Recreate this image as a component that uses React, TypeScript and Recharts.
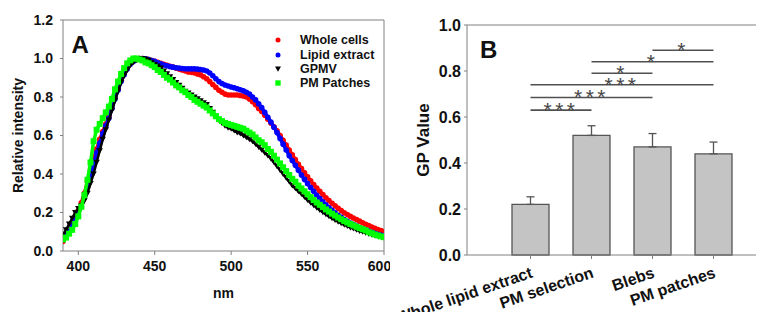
import React from "react";
import {
  Bar,
  BarChart,
  ErrorBar,
  Legend,
  ReferenceLine,
  Scatter,
  ScatterChart,
  XAxis,
  YAxis,
} from "recharts";

const FONT = '"Liberation Sans", Arial, sans-serif';
const AXIS = "#808080";
const INK = "#111111";

// ---- panel A: normalised emission spectra ----
const wavelengths = [
  390, 392, 394, 396, 398, 400, 402, 404, 406, 408,
  410, 412, 414, 416, 418, 420, 422, 424, 426, 428,
  430, 432, 434, 436, 438, 440, 442, 444, 446, 448,
  450, 452, 454, 456, 458, 460, 462, 464, 466, 468,
  470, 472, 474, 476, 478, 480, 482, 484, 486, 488,
  490, 492, 494, 496, 498, 500, 502, 504, 506, 508,
  510, 512, 514, 516, 518, 520, 522, 524, 526, 528,
  530, 532, 534, 536, 538, 540, 542, 544, 546, 548,
  550, 552, 554, 556, 558, 560, 562, 564, 566, 568,
  570, 572, 574, 576, 578, 580, 582, 584, 586, 588,
  590, 592, 594, 596, 598, 600,
];

const wholeCells = [
  0.05, 0.07, 0.1, 0.13, 0.17, 0.21, 0.25, 0.3, 0.36, 0.42,
  0.48, 0.53, 0.58, 0.62, 0.66, 0.7, 0.75, 0.8, 0.845, 0.89,
  0.925, 0.955, 0.975, 0.99, 0.998, 1.0, 1.0, 0.998, 0.995, 0.99,
  0.985, 0.98, 0.975, 0.97, 0.965, 0.96, 0.955, 0.95, 0.945, 0.94,
  0.935, 0.93, 0.928, 0.925, 0.92, 0.915, 0.905, 0.895, 0.88, 0.865,
  0.85, 0.835, 0.825, 0.815, 0.81, 0.81, 0.81, 0.81, 0.808, 0.805,
  0.8, 0.79, 0.775, 0.76, 0.74, 0.725, 0.705, 0.685, 0.665, 0.645,
  0.625, 0.6, 0.575, 0.55, 0.525, 0.5, 0.475, 0.45, 0.428, 0.406,
  0.385, 0.365, 0.345, 0.327, 0.31, 0.293, 0.277, 0.262, 0.248, 0.235,
  0.222, 0.21, 0.199, 0.189, 0.18, 0.171, 0.163, 0.155, 0.147, 0.139,
  0.132, 0.125, 0.118, 0.112, 0.106, 0.1,
];

const lipidExtract = [
  0.06, 0.08, 0.1, 0.13, 0.16, 0.19, 0.23, 0.28, 0.33, 0.39,
  0.45, 0.51, 0.56, 0.61, 0.65, 0.69, 0.74, 0.79, 0.835, 0.88,
  0.915, 0.945, 0.97, 0.985, 0.995, 1.0, 1.0, 0.998, 0.995, 0.99,
  0.985, 0.978, 0.972, 0.966, 0.962, 0.958, 0.955, 0.952, 0.95, 0.948,
  0.947, 0.946, 0.946, 0.946, 0.945, 0.943, 0.94, 0.935, 0.925, 0.91,
  0.895, 0.88, 0.87, 0.862, 0.857, 0.852, 0.848, 0.843, 0.838, 0.832,
  0.825, 0.815, 0.8, 0.785, 0.765, 0.745, 0.72, 0.695, 0.67, 0.643,
  0.615, 0.585, 0.555, 0.525, 0.495, 0.47, 0.445, 0.42, 0.395, 0.372,
  0.35, 0.33, 0.31, 0.29, 0.272, 0.255, 0.24, 0.225, 0.211, 0.198,
  0.186, 0.175, 0.164, 0.154, 0.145, 0.137, 0.129, 0.122, 0.115, 0.109,
  0.103, 0.097, 0.092, 0.087, 0.083, 0.079,
];

const gpmv = [
  0.085, 0.11, 0.14, 0.17, 0.2, 0.22, 0.235, 0.26, 0.3, 0.35,
  0.4, 0.46, 0.52, 0.58, 0.63, 0.68, 0.73, 0.78, 0.83, 0.875,
  0.91, 0.94, 0.965, 0.98, 0.99, 0.998, 1.0, 0.995, 0.99, 0.98,
  0.97, 0.96, 0.95, 0.935, 0.92, 0.905, 0.89, 0.875, 0.86, 0.845,
  0.83, 0.82, 0.81, 0.8, 0.79, 0.78, 0.77, 0.76, 0.74, 0.72,
  0.7, 0.68, 0.665, 0.65, 0.64, 0.635, 0.625, 0.615, 0.61, 0.6,
  0.59, 0.58, 0.57, 0.555, 0.54, 0.525, 0.51, 0.495, 0.48, 0.46,
  0.44, 0.42, 0.4, 0.38, 0.36, 0.34, 0.325, 0.31, 0.295, 0.28,
  0.265, 0.25, 0.237, 0.224, 0.212, 0.201, 0.19, 0.18, 0.17, 0.161,
  0.152, 0.144, 0.136, 0.129, 0.122, 0.116, 0.11, 0.104, 0.099, 0.094,
  0.089, 0.085, 0.081, 0.077, 0.073, 0.07,
];

const pmPatches = [
  0.06, 0.07, 0.09, 0.11, 0.14, 0.18, 0.23, 0.29, 0.37, 0.46,
  0.57, 0.63, 0.66, 0.69, 0.72, 0.75, 0.79, 0.84, 0.88, 0.92,
  0.95, 0.975, 0.99, 1.0, 1.0, 0.995, 0.99, 0.98, 0.975, 0.965,
  0.955, 0.94, 0.93, 0.915, 0.9, 0.89, 0.875, 0.86, 0.85, 0.835,
  0.825, 0.81, 0.8, 0.785, 0.775, 0.765, 0.755, 0.745, 0.73, 0.715,
  0.7, 0.685, 0.675, 0.665, 0.66, 0.655, 0.65, 0.645, 0.64, 0.635,
  0.625, 0.615, 0.605, 0.59, 0.575, 0.565, 0.55, 0.53, 0.515, 0.495,
  0.475, 0.455, 0.435, 0.415, 0.395, 0.375, 0.36, 0.34, 0.325, 0.31,
  0.295, 0.28, 0.265, 0.252, 0.24, 0.228, 0.216, 0.205, 0.194, 0.184,
  0.174, 0.165, 0.156, 0.148, 0.14, 0.133, 0.126, 0.119, 0.113, 0.107,
  0.098, 0.092, 0.086, 0.081, 0.076, 0.072,
];

const spectraTicksX = [400, 450, 500, 550, 600];
const spectraTicksY = [0, 0.2, 0.4, 0.6, 0.8, 1.0, 1.2];

// ---- panel B: GP values ----
const categories = ["Whole lipid extract", "PM selection", "Blebs", "PM patches"];
const gpValues = [0.22, 0.52, 0.47, 0.44];
const gpErrors = [0.033, 0.042, 0.058, 0.051];
const gpTicksY = [0, 0.2, 0.4, 0.6, 0.8, 1.0];

// significance brackets
const bracketFrom = ["Whole lipid extract", "Whole lipid extract", "Whole lipid extract", "PM selection", "PM selection", "Blebs"];
const bracketTo = ["PM selection", "Blebs", "PM patches", "Blebs", "PM patches", "PM patches"];
const bracketLevel = [0.63, 0.685, 0.74, 0.79, 0.84, 0.89];
const bracketStars = ["***", "***", "***", "*", "*", "*"];

type Pt = { x: number; y: number };
const toPoints = (vals: number[]): Pt[] => wavelengths.map((x, i) => ({ x, y: vals[i] }));

const gpData = categories.map((name, i) => ({
  name,
  gp: gpValues[i],
  err: [0, gpErrors[i]],
}));

function dot(color: string) {
  return (p: any) => <circle cx={p.cx} cy={p.cy} r={2.8} fill={color} />;
}
function square(color: string) {
  return (p: any) => <rect x={p.cx - 3} y={p.cy - 3} width={6} height={6} fill={color} />;
}
function triDown(color: string) {
  return (p: any) => (
    <path d={`M${p.cx - 3.2},${p.cy - 2.6}L${p.cx + 3.2},${p.cy - 2.6}L${p.cx},${p.cy + 2.9}Z`} fill={color} />
  );
}

const legendItems = [
  { name: "Whole cells", color: "#ff0000", kind: "dot" },
  { name: "Lipid extract", color: "#0000ff", kind: "dot" },
  { name: "GPMV", color: "#000000", kind: "tri" },
  { name: "PM Patches", color: "#00ff00", kind: "square" },
];

function SpectraLegend() {
  return (
    <div style={{ fontFamily: FONT, fontSize: 12.5, fontWeight: 700, color: INK }}>
      {legendItems.map((it) => (
        <div key={it.name} style={{ display: "flex", alignItems: "center", height: 14.4 }}>
          <svg width={12} height={10} style={{ marginRight: 16 }}>
            {it.kind === "dot" && <circle cx={6} cy={5} r={2.5} fill={it.color} />}
            {it.kind === "square" && <rect x={3.3} y={2.3} width={5.4} height={5.4} fill={it.color} />}
            {it.kind === "tri" && <path d="M3,2.5L9,2.5L6,7.8Z" fill={it.color} />}
          </svg>
          <span>{it.name}</span>
        </div>
      ))}
    </div>
  );
}

function SpectraChart() {
  const tickStyle = { fill: INK, fontSize: 14, fontWeight: 700, fontFamily: FONT };
  return (
    <ScatterChart width={390} height={320} margin={{ top: 20, right: 6, bottom: 0, left: 0 }}>
      <XAxis
        type="number"
        dataKey="x"
        domain={[390, 600]}
        ticks={spectraTicksX}
        allowDataOverflow
        height={69}
        tickSize={4}
        tickMargin={6}
        stroke={AXIS}
        tick={tickStyle}
        label={{ value: "nm", position: "insideBottom", offset: 22, ...tickStyle }}
      />
      <YAxis
        type="number"
        dataKey="y"
        domain={[0, 1.2]}
        ticks={spectraTicksY}
        width={63}
        tickSize={3}
        tickMargin={7}
        stroke={AXIS}
        tick={tickStyle}
        tickFormatter={(v: number) => v.toFixed(1)}
        label={{
          value: "Relative intensity",
          angle: -90,
          position: "insideLeft",
          offset: 18,
          ...tickStyle,
          style: { textAnchor: "middle" },
        }}
      />
      <ReferenceLine y={1.2} stroke={AXIS} />
      <ReferenceLine x={600} stroke={AXIS} />
      <Scatter name="Whole cells" data={toPoints(wholeCells)} shape={dot("#ff0000")} line={{ stroke: "#ff0000", strokeWidth: 3.5 }} isAnimationActive={false} />
      <Scatter name="Lipid extract" data={toPoints(lipidExtract)} shape={dot("#0000ff")} line={{ stroke: "#0000ff", strokeWidth: 3.5 }} isAnimationActive={false} />
      <Scatter name="GPMV" data={toPoints(gpmv)} shape={triDown("#000000")} line={{ stroke: "#000000", strokeWidth: 2.5 }} isAnimationActive={false} />
      <Scatter name="PM Patches" data={toPoints(pmPatches)} shape={square("#00ff00")} line={{ stroke: "#00ff00", strokeWidth: 3.5 }} isAnimationActive={false} />
      <Legend
        layout="vertical"
        align="center"
        verticalAlign="middle"
        wrapperStyle={{ position: "absolute", top: 33, left: 272, width: "auto" }}
        content={() => <SpectraLegend />}
      />
    </ScatterChart>
  );
}

function CategoryTick(props: any) {
  const { x, y, payload } = props;
  return (
    <g transform={`translate(${x + 3},${y + 16}) rotate(-19)`}>
      <text textAnchor="end" fill={INK} fontSize={16} fontWeight={700} fontFamily={FONT}>
        {payload.value}
      </text>
    </g>
  );
}

function GpChart() {
  const tickStyle = { fill: INK, fontSize: 16, fontWeight: 700, fontFamily: FONT };
  return (
    <BarChart width={384} height={320} data={gpData} margin={{ top: 25, right: 0, bottom: 0, left: 0 }}>
      <XAxis
        dataKey="name"
        type="category"
        padding={{ left: 33, right: 20 }}
        height={65}
        interval={0}
        tickSize={4}
        tickMargin={2}
        stroke={AXIS}
        tick={<CategoryTick />}
      />
      <YAxis
        type="number"
        domain={[0, 1]}
        ticks={gpTicksY}
        width={87}
        tickSize={3}
        tickMargin={3}
        stroke={AXIS}
        tick={tickStyle}
        tickFormatter={(v: number) => v.toFixed(1)}
        label={{
          value: "GP Value",
          angle: -90,
          position: "insideLeft",
          offset: 43,
          ...tickStyle,
          fontSize: 17,
          style: { textAnchor: "middle" },
        }}
      />
      <ReferenceLine y={1} stroke={AXIS} />
      <Bar dataKey="gp" barSize={37} fill="#c4c4c4" stroke="#555555" strokeWidth={1.3} isAnimationActive={false}>
        <ErrorBar dataKey="err" direction="y" width={4} stroke="#555555" strokeWidth={1.3} />
      </Bar>
      {bracketLevel.map((lv, i) => (
        <ReferenceLine
          key={i}
          segment={[
            { x: bracketFrom[i], y: lv },
            { x: bracketTo[i], y: lv },
          ]}
          stroke="#505050"
          strokeWidth={1.6}
          label={{
            value: bracketStars[i],
            position: "top",
            offset: -7,
            fontSize: 21,
            fill: "#444444",
            fontFamily: FONT,
            style: { letterSpacing: 3.5 },
          }}
        />
      ))}
    </BarChart>
  );
}

export default function App() {
  return (
    <div style={{ position: "relative", width: 764, height: 320, margin: -8, background: "#ffffff", fontFamily: FONT }}>
      <div style={{ position: "absolute", left: 0, top: 0 }}>
        <SpectraChart />
      </div>
      <div style={{ position: "absolute", left: 380, top: 0 }}>
        <GpChart />
      </div>
      <svg width={764} height={320} style={{ position: "absolute", left: 0, top: 0, pointerEvents: "none" }}>
        <text x={71.5} y={53.3} fontSize={24} fontWeight={700} fontFamily={FONT} fill={INK}>A</text>
        <text x={480} y={58.3} fontSize={24} fontWeight={700} fontFamily={FONT} fill={INK}>B</text>
      </svg>
    </div>
  );
}
